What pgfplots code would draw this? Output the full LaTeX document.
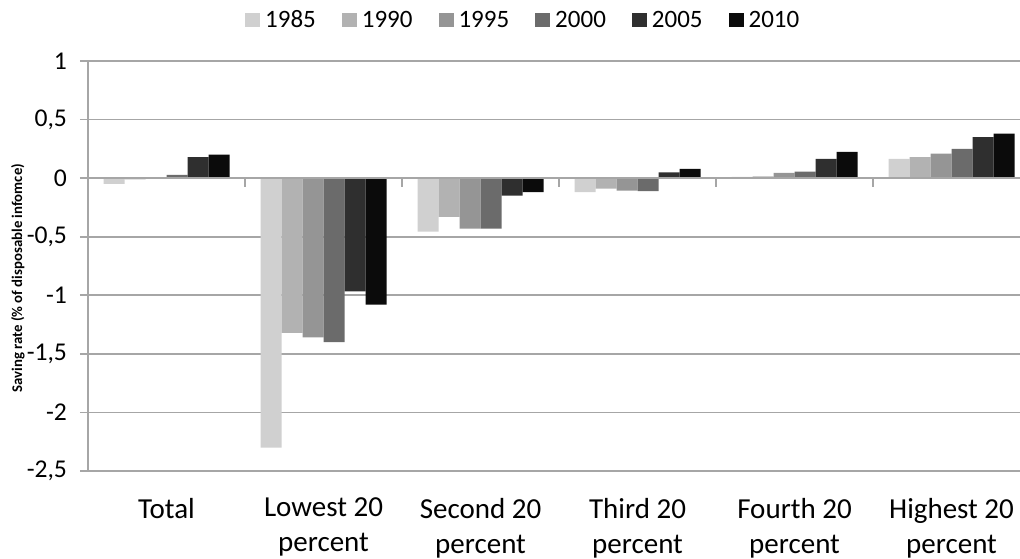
\documentclass[border=0pt]{standalone}
\usepackage{fontspec}
\setmainfont{Carlito}
\usepackage{pgfplots}
\pgfplotsset{compat=1.18}
\definecolor{c1985}{HTML}{D0D0D0}
\definecolor{c1990}{HTML}{B2B2B2}
\definecolor{c1995}{HTML}{959595}
\definecolor{c2000}{HTML}{6B6B6B}
\definecolor{c2005}{HTML}{2F2F2F}
\definecolor{c2010}{HTML}{0B0B0B}
\definecolor{gridgray}{HTML}{A6A6A6}
\begin{document}
\begin{tikzpicture}
\begin{axis}[
    name=ax,
    scale only axis,
    width=466pt, height=205pt,
    ybar=0pt, bar width=10.5pt,
    xmin=-0.5, xmax=5.436,
    ymin=-2.5, ymax=1,
    ytick={-2.5,-2,...,1},
    /pgf/number format/use comma,
    /pgf/number format/assume math mode=true,
    yticklabel style={font=\fontsize{12.8}{14}\selectfont, xshift=-3pt},
    axis y line*=left,
    axis x line*=bottom,
    y axis line style={draw=gridgray, line width=0.8pt},
    x axis line style={draw=none},
    ytick style={draw=gridgray, line width=0.8pt},
    major tick length=4pt,
    tick align=outside,
    ymajorgrids,
    major grid style={draw=gridgray, line width=0.8pt},
    xtick={0,1,2,3,4,5},
    xtick style={draw=none},
    xticklabels={Total, Lowest 20\\percent, Second 20\\percent, Third 20\\percent, Fourth 20\\percent, Highest 20\\percent},
    xticklabel style={font=\fontsize{14.5}{17.5}\selectfont, align=center, yshift=-6pt},
    ylabel={Saving rate (\% of disposable infomce)},
    ylabel style={font=\bfseries\fontsize{7.4}{8}\selectfont, at={(axis description cs:-0.0751,0.47)}, anchor=center},
    legend columns=6,
    legend style={draw=none, fill=none, at={(axis description cs:0.467,1.098)}, anchor=center,
      font=\fontsize{12.5}{14}\selectfont,
      /tikz/every odd column/.append style={column sep=1.5pt},
      /tikz/every even column/.append style={column sep=12pt},
      nodes={inner sep=1pt}},
    legend image code/.code={\fill[#1] (0pt,-3.3pt) rectangle (7.5pt,3.7pt);},
    clip=false,
]
\addplot[fill=c1985, draw=none] coordinates {(0,-0.05) (1,-2.30) (2,-0.457) (3,-0.12) (4,0.01) (5,0.165)};
\addplot[fill=c1990, draw=none] coordinates {(0,-0.01) (1,-1.32) (2,-0.33) (3,-0.09) (4,0.015) (5,0.18)};
\addplot[fill=c1995, draw=none] coordinates {(0,0.005) (1,-1.36) (2,-0.43) (3,-0.107) (4,0.045) (5,0.21)};
\addplot[fill=c2000, draw=none] coordinates {(0,0.027) (1,-1.40) (2,-0.43) (3,-0.11) (4,0.055) (5,0.25)};
\addplot[fill=c2005, draw=none] coordinates {(0,0.18) (1,-0.967) (2,-0.15) (3,0.05) (4,0.165) (5,0.35)};
\addplot[fill=c2010, draw=none] coordinates {(0,0.20) (1,-1.08) (2,-0.12) (3,0.08) (4,0.225) (5,0.38)};
\legend{1985,1990,1995,2000,2005,2010}
\draw[gridgray, line width=0.8pt] (axis cs:-0.5,0) -- (axis cs:5.436,0);
\pgfplotsinvokeforeach{0.5,1.5,2.5,3.5,4.5}{\draw[gridgray, line width=0.8pt] (axis cs:#1,0) -- ([yshift=-4.5pt]axis cs:#1,0);}
\end{axis}
\pgfresetboundingbox
\useasboundingbox ([xshift=-44pt,yshift=-44pt]ax.south west) rectangle ([yshift=30.5pt]ax.north east);
\end{tikzpicture}
\end{document}
